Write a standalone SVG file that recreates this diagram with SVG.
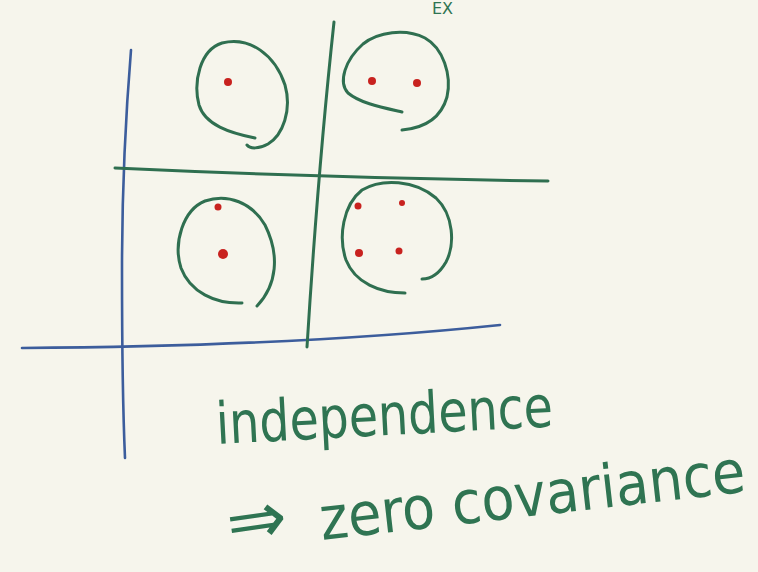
<svg xmlns="http://www.w3.org/2000/svg" width="758" height="572" viewBox="0 0 758 572">
<style>
.g{fill:none;stroke:#2f6f50;stroke-width:3;stroke-linecap:round;stroke-linejoin:round}
.b{fill:none;stroke:#3c5d9c;stroke-width:2.6;stroke-linecap:round}
.d{fill:#c8221f}
.t{fill:#2f7452;font-family:"DejaVu Sans","Liberation Sans",sans-serif}
</style>
<rect width="758" height="572" fill="#f6f5ec"/>
<g id="axes">
<path class="b" d="M131,50 Q122,160 122,270 Q122,390 125,458"/>
<path class="b" d="M22,348 Q300,346 500,325"/>
</g>
<g id="grid">
<path class="g" d="M115,168 Q330,178 548,181"/>
<path class="g" d="M334,22 Q318,170 307,347"/>
</g>
<g id="cell-tl">
<path class="g" d="M255,138 C230,133 205,125 199,105 C193,82 200,50 222,43 C250,36 275,55 285,85 C292,110 283,135 268,144 C259,149 250,149 247,145"/>
<circle class="d" cx="228" cy="82" r="4"/>
</g>
<g id="cell-tr">
<path class="g" d="M402,112 C380,107 360,103 348,93 C338,82 345,60 363,44 C378,32 405,28 425,38 C443,48 452,75 447,97 C441,118 425,128 402,130"/>
<circle class="d" cx="372" cy="81" r="4"/>
<circle class="d" cx="417" cy="83" r="4"/>
</g>
<g id="cell-bl">
<path class="g" d="M242,303 C215,304 190,292 181,268 C173,243 183,210 205,201 C228,193 252,203 265,225 C280,255 277,285 257,306"/>
<circle class="d" cx="218" cy="207" r="3.5"/>
<circle class="d" cx="223" cy="254" r="5"/>
</g>
<g id="cell-br">
<path class="g" d="M405,293 C380,293 355,283 346,260 C338,237 343,205 362,190 C382,178 415,180 436,198 C454,215 455,245 446,262 C438,276 430,279 422,279"/>
<circle class="d" cx="358" cy="206" r="3.5"/>
<circle class="d" cx="402" cy="203" r="3"/>
<circle class="d" cx="359" cy="253" r="4"/>
<circle class="d" cx="399" cy="251" r="3.5"/>
</g>
<g id="labels">
<text class="t" x="432" y="14" font-size="16">EX</text>
<g transform="translate(217 444) rotate(-3) scale(0.82 1)"><text class="t" x="0" y="0" font-size="58">independence</text></g>
<text class="t" x="230" y="548" font-size="72" transform="rotate(-8 230 548)">⇒</text>
<g transform="translate(322 540) rotate(-6.5) scale(0.9 1)"><text class="t" x="0" y="0" font-size="60">zero covariance</text></g>
</g>
</svg>
